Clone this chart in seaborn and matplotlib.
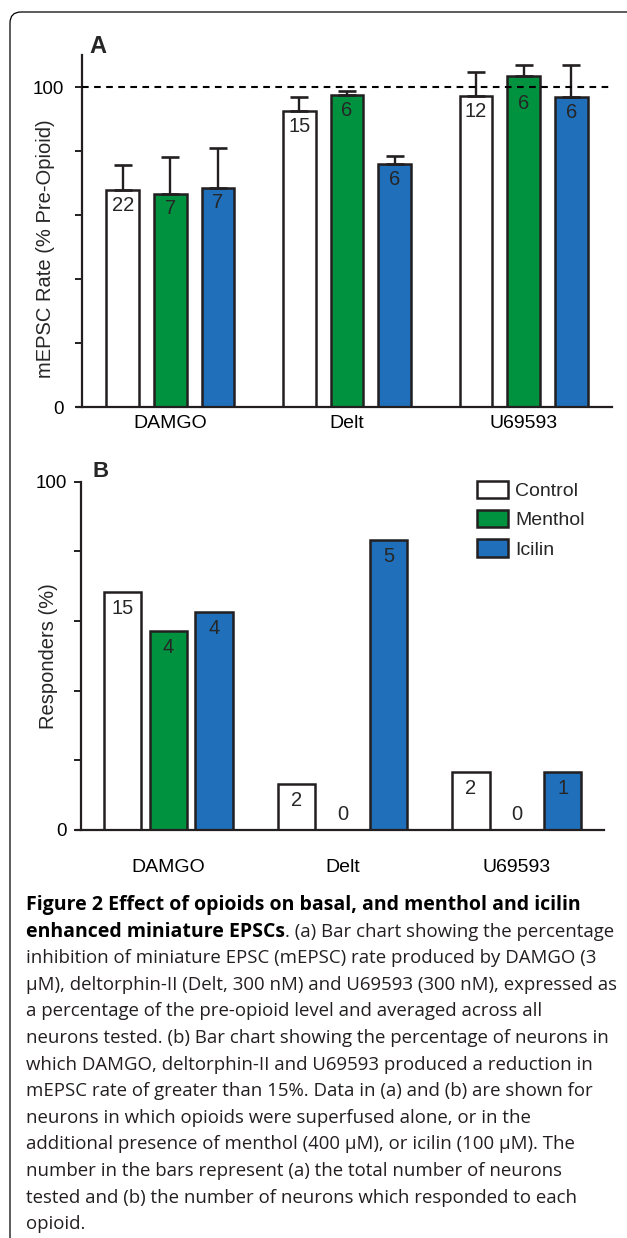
import numpy as np
import pandas as pd
import matplotlib
matplotlib.use('Agg')
import matplotlib.pyplot as plt
import seaborn as sns
from matplotlib.patches import FancyBboxPatch, Patch

# Data
drugs = ['DAMGO', 'Delt', 'U69593']
conditions = ['Control', 'Menthol', 'Icilin']
colors = ['#FFFFFF', '#00923F', '#1F6FBA']

# panel A: mEPSC rate (% pre-opioid), SEM and n per bar
rate_control = [67.8, 92.5, 97.1]
rate_menthol = [66.7, 97.4, 103.3]
rate_icilin = [68.5, 75.9, 96.8]
sem_control = [7.8, 4.3, 7.6]
sem_menthol = [11.3, 1.4, 3.5]
sem_icilin = [12.4, 2.6, 10.2]
n_control = [22, 15, 12]
n_menthol = [7, 6, 6]
n_icilin = [7, 6, 6]

# panel B: responders (%) and number of responders
resp_control = [68.2, 13.3, 16.7]
resp_menthol = [57.1, 0, 0]
resp_icilin = [62.5, 83.3, 16.7]
nresp_control = [15, 2, 2]
nresp_menthol = [4, 0, 0]
nresp_icilin = [4, 5, 1]

yticks = [0, 20, 40, 60, 80, 100]
yticklabels = ['0', '', '', '', '', '100']

caption_lines = [
    'inhibition of miniature EPSC (mEPSC) rate produced by DAMGO (3',
    'µM), deltorphin-II (Delt, 300 nM) and U69593 (300 nM), expressed as',
    'a percentage of the pre-opioid level and averaged across all',
    'neurons tested. (b) Bar chart showing the percentage of neurons in',
    'which DAMGO, deltorphin-II and U69593 produced a reduction in',
    'mEPSC rate of greater than 15%. Data in (a) and (b) are shown for',
    'neurons in which opioids were superfused alone, or in the',
    'additional presence of menthol (400 µM), or icilin (100 µM). The',
    'number in the bars represent (a) the total number of neurons',
    'tested and (b) the number of neurons which responded to each',
    'opioid.',
]

df = pd.DataFrame({
    'drug': drugs * 3,
    'condition': np.repeat(conditions, 3),
    'rate': rate_control + rate_menthol + rate_icilin,
    'sem': sem_control + sem_menthol + sem_icilin,
    'n': n_control + n_menthol + n_icilin,
    'resp': resp_control + resp_menthol + resp_icilin,
    'nresp': nresp_control + nresp_menthol + nresp_icilin,
})

sns.set_theme(style='ticks')
plt.rcParams['font.family'] = ['Liberation Sans', 'DejaVu Sans']
EDGE = '#231F20'

W, H = 627, 1238
fig = plt.figure(figsize=(W / 100, H / 100), dpi=100)


def px(l, t, r, b):
    return [l / W, 1 - b / H, (r - l) / W, (b - t) / H]


# background axes in pixel units for frame and caption
bg = fig.add_axes([0, 0, 1, 1], zorder=-1)
bg.set_xlim(0, W)
bg.set_ylim(H, 0)
bg.axis('off')
bg.add_patch(FancyBboxPatch((10, 12), 800, 1400, boxstyle='round,pad=0,rounding_size=11',
                            fc='none', ec='black', lw=0.9))


def style_axes(ax, top):
    ax.set_xlim(-0.5, 2.5)
    ax.set_ylim(0, top)
    ax.set_yticks(yticks, yticklabels)
    sns.despine(ax=ax)
    for s in ['left', 'bottom']:
        ax.spines[s].set_linewidth(1.6)
        ax.spines[s].set_color(EDGE)
    ax.spines['bottom'].set_bounds(-0.53, 2.5)
    ax.tick_params(axis='y', length=5, width=1.4, color=EDGE, labelsize=13.5, labelcolor='black')
    ax.tick_params(axis='x', length=0, labelsize=14, labelcolor='black')
    ax.set_xlabel('')


def label_bars(ax, values, labels, off):
    for cont, vals, labs in zip(ax.containers, values, labels):
        for bar, v, lab in zip(cont, vals, labs):
            x = bar.get_x() + bar.get_width() / 2
            if v == 0:
                ax.annotate(str(lab), (x, 0), xytext=(0, 4), textcoords='offset points',
                            ha='center', va='bottom', fontsize=14.5)
            else:
                ax.annotate(str(lab), (x, min(v, 99.5)), xytext=(0, off), textcoords='offset points',
                            ha='center', va='top', fontsize=14.5, zorder=5)


# ---- Panel A ----
ax_a = fig.add_axes(px(82, 55, 612, 407))
sns.barplot(data=df, x='drug', y='rate', hue='condition', order=drugs, hue_order=conditions,
            palette=colors, saturation=1, edgecolor=EDGE, linewidth=1.8, width=0.81, gap=0.31,
            errorbar=None, legend=False, ax=ax_a)
sems = [sem_control, sem_menthol, sem_icilin]
for cont, s_list in zip(ax_a.containers, sems):
    xs = [b.get_x() + b.get_width() / 2 for b in cont]
    ys = [b.get_height() for b in cont]
    ax_a.errorbar(xs, ys, yerr=[np.zeros(len(s_list)), s_list], fmt='none', ecolor=EDGE,
                  elinewidth=1.7, capsize=6.8, capthick=1.9, zorder=1)
ax_a.axhline(100, color='black', lw=1.5, ls=(0, (3.2, 2.6)), zorder=4)
style_axes(ax_a, 110)
ax_a.tick_params(axis='y', pad=8)
ax_a.tick_params(axis='x', pad=6)
ax_a.set_ylabel('mEPSC Rate (% Pre-Opioid)', fontsize=14.5)
ax_a.yaxis.set_label_coords(-0.051, 0.45)
label_bars(ax_a, [rate_control, rate_menthol, rate_icilin], [n_control, n_menthol, n_icilin], -4)
fig.text(89 / W, 1 - 35 / H, 'A', fontsize=17, fontweight='bold', va='top', ha='left')

# ---- Panel B ----
ax_b = fig.add_axes(px(81, 481.7, 604, 830))
sns.barplot(data=df, x='drug', y='resp', hue='condition', order=drugs, hue_order=conditions,
            palette=colors, saturation=1, edgecolor=EDGE, linewidth=1.8, width=0.79, gap=0.19,
            errorbar=None, legend=False, ax=ax_b)
style_axes(ax_b, 100)
ax_b.tick_params(axis='y', pad=5)
ax_b.tick_params(axis='x', pad=21)
ax_b.set_ylabel('Responders (%)', fontsize=14.5)
ax_b.yaxis.set_label_coords(-0.044, 0.5)
label_bars(ax_b, [resp_control, resp_menthol, resp_icilin], [nresp_control, nresp_menthol, nresp_icilin], -5)
handles = [Patch(facecolor=c, edgecolor=EDGE, linewidth=1.8, label=l) for c, l in zip(colors, conditions)]
ax_b.legend(handles=handles, loc='upper left', bbox_to_anchor=(477 / W, 1 - 481 / H),
            bbox_transform=fig.transFigure, frameon=False, fontsize=14, borderpad=0,
            borderaxespad=0, handlelength=1.6, handleheight=1.0, handletextpad=0.35,
            labelspacing=0.5)
fig.text(92 / W, 1 - 461 / H, 'B', fontsize=16, fontweight='bold', va='top', ha='left')

# ---- Caption ----
cap_font = ['Open Sans', 'DejaVu Sans']
cap_size = 13.4
bold_size = 14.0
base0, step = 910, 26.6
bg.text(26, base0, 'Figure 2 Effect of opioids on basal, and menthol and icilin', family=cap_font,
        fontsize=bold_size, fontweight='bold', va='baseline', color='black')
t_bold = bg.text(26, base0 + step, 'enhanced miniature EPSCs', family=cap_font, fontsize=bold_size,
                 fontweight='bold', va='baseline', color='black')
fig.canvas.draw()
bb = t_bold.get_window_extent()
x_end = bg.transData.inverted().transform((bb.x1, bb.y0))[0]
bg.text(x_end, base0 + step, '. (a) Bar chart showing the percentage', family=cap_font,
        fontsize=cap_size, va='baseline', color='#231F20')
for i, line in enumerate(caption_lines):
    bg.text(26, base0 + step * (i + 2), line, family=cap_font, fontsize=cap_size,
            va='baseline', color='#231F20')

fig.savefig('out.png', dpi=100)
